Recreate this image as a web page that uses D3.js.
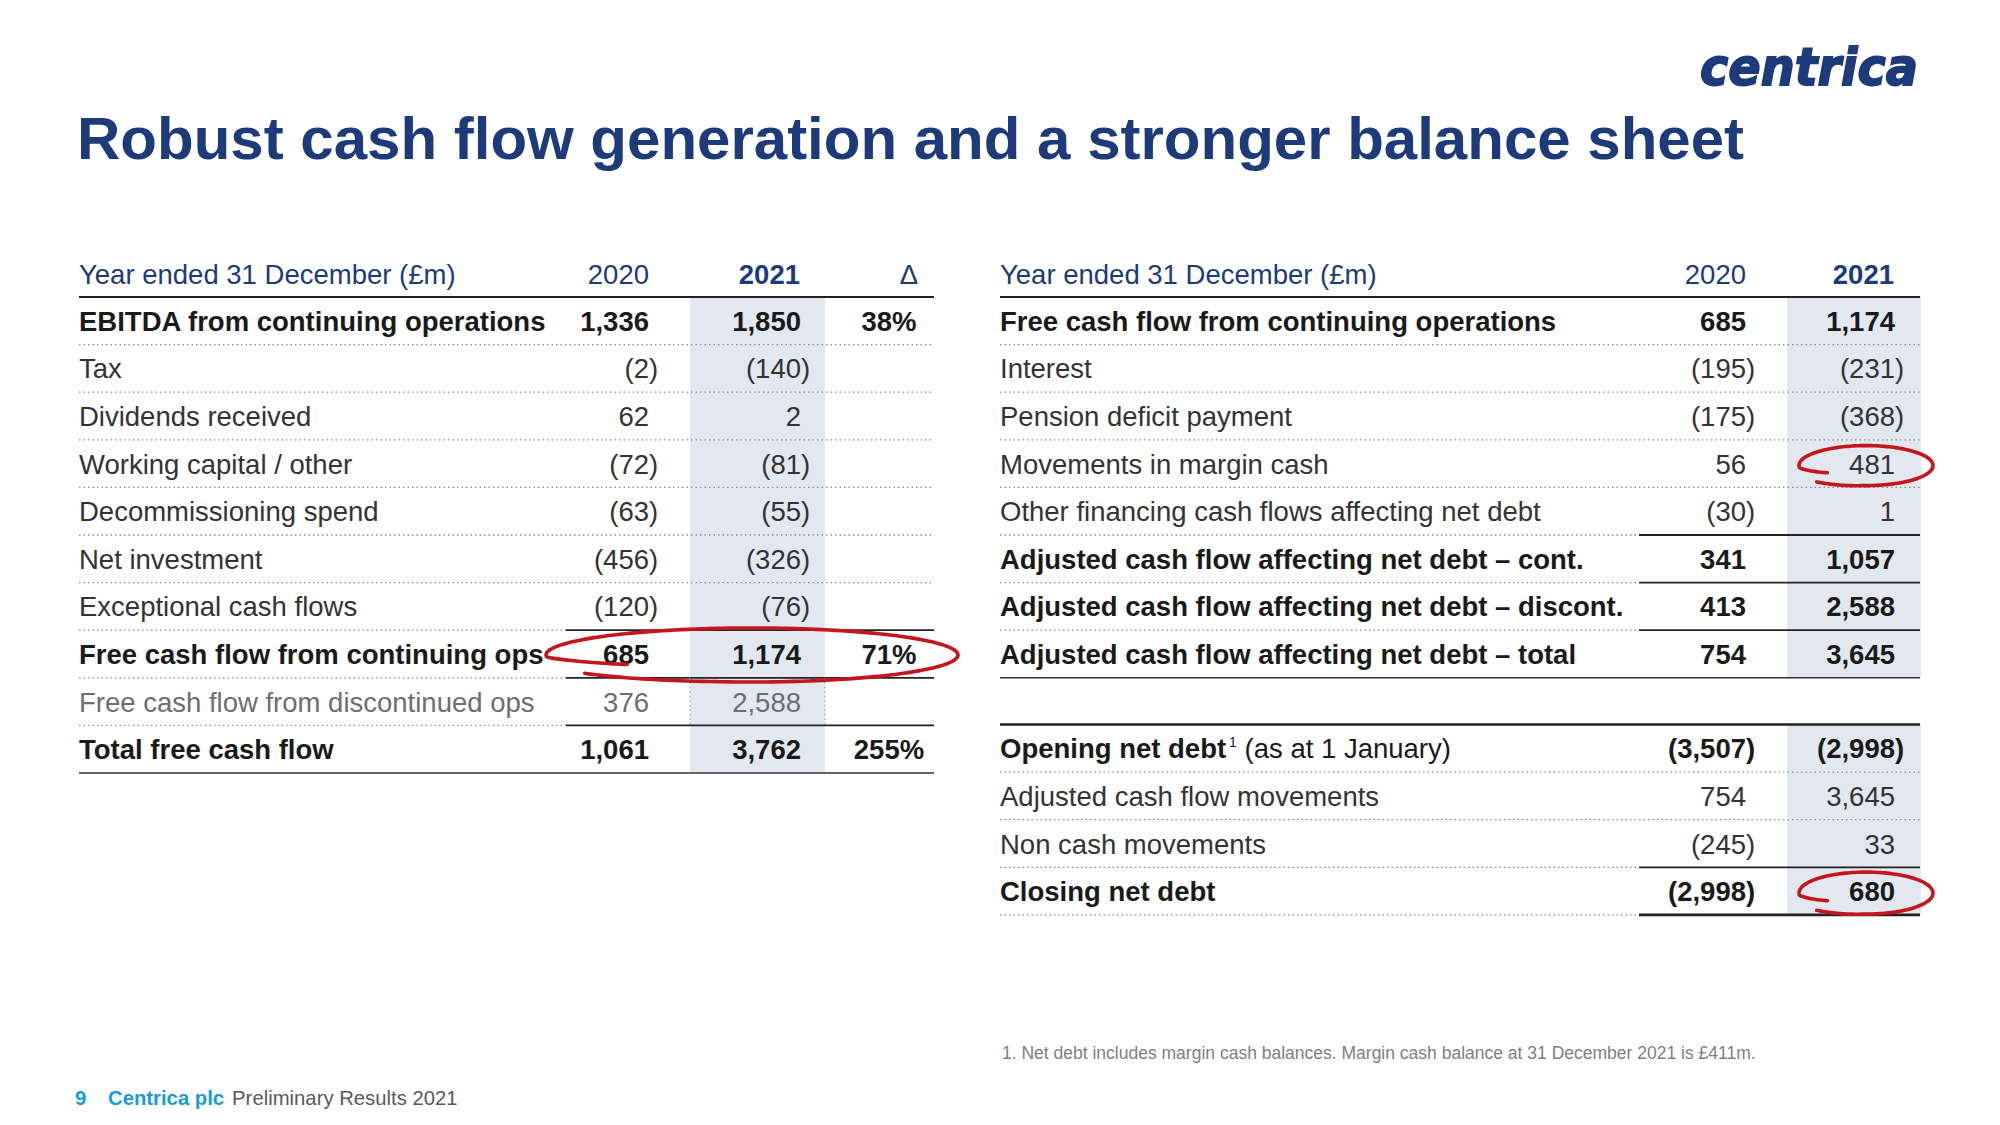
<!DOCTYPE html>
<html>
<head>
<meta charset="utf-8">
<script src="https://cdn.jsdelivr.net/npm/d3@7"></script>
<style>
  html, body { margin: 0; padding: 0; background: #fff; }
  svg { display: block; font-family: "Liberation Sans", Arial, sans-serif; }
</style>
</head>
<body>
<svg id="chart" width="2000" height="1125"></svg>
<script>
// ---------------- DATA ----------------
const titleText = "Robust cash flow generation and a stronger balance sheet";
const headerLabel = "Year ended 31 December (£m)";
const yearLabels = ["2020", "2021"];
const deltaLabel = "\u0394";

const leftLabels = [
  "EBITDA from continuing operations", "Tax", "Dividends received",
  "Working capital / other", "Decommissioning spend", "Net investment",
  "Exceptional cash flows", "Free cash flow from continuing ops",
  "Free cash flow from discontinued ops", "Total free cash flow"
];
const left2020 = [1336, -2, 62, -72, -63, -456, -120, 685, 376, 1061];
const left2021 = [1850, -140, 2, -81, -55, -326, -76, 1174, 2588, 3762];
const leftDelta = ["38%", "", "", "", "", "", "", "71%", "", "255%"];
const leftBold = [true, false, false, false, false, false, false, true, false, true];
const leftMuted = [false, false, false, false, false, false, false, false, true, false];
const leftRule = ["dot", "dot", "dot", "dot", "dot", "dot", "mixed", "mixed", "mixed", "solid"];

const rightLabels = [
  "Free cash flow from continuing operations", "Interest", "Pension deficit payment",
  "Movements in margin cash", "Other financing cash flows affecting net debt",
  "Adjusted cash flow affecting net debt \u2013 cont.",
  "Adjusted cash flow affecting net debt \u2013 discont.",
  "Adjusted cash flow affecting net debt \u2013 total"
];
const right2020 = [685, -195, -175, 56, -30, 341, 413, 754];
const right2021 = [1174, -231, -368, 481, 1, 1057, 2588, 3645];
const rightBold = [true, false, false, false, false, true, true, true];
const rightRule = ["dot", "dot", "dot", "dot", "mixed", "mixed", "mixed", "solid"];

const debtLabels = ["Opening net debt", "Adjusted cash flow movements", "Non cash movements", "Closing net debt"];
const debtSuffix = [" (as at 1 January)", "", "", ""];
const debt2020 = [-3507, 754, -245, -2998];
const debt2021 = [-2998, 3645, 33, 680];
const debtBold = [true, false, false, true];
const debtRule = ["dot", "dot", "mixed", "mixedThick"];

const footnote = "1. Net debt includes margin cash balances. Margin cash balance at 31 December 2021 is £411m.";
const footerPage = "9";
const footerCompany = "Centrica plc";
const footerDoc = "Preliminary Results 2021";
const logoText = "centrica";

// ---------------- STYLE / LAYOUT ----------------
const NAVY = "#1d3a7a";
const TEXT = "#333333";
const BOLD = "#1a1a1a";
const MUTED = "#6e6e6e";
const BAND = "#e3e7ef";
const RED = "#c4161c";
const FS = 27.5;
const ROW_H = 47.6;
const HEADER_LINE_Y = 297;

const svg = d3.select("#chart");
const fmt = d3.format(",");

// Title
svg.append("text").attr("x", 77).attr("y", 159)
  .attr("font-size", 60).attr("font-weight", 700).attr("fill", NAVY)
  .text(titleText);

// Logo
svg.append("text").attr("x", 1700).attr("y", 85)
  .attr("font-family", "'DejaVu Sans', sans-serif")
  .attr("font-size", 52).attr("font-weight", 700).attr("font-style", "italic")
  .attr("fill", NAVY).attr("stroke", NAVY).attr("stroke-width", 1.8)
  .attr("textLength", 218).attr("lengthAdjust", "spacingAndGlyphs")
  .text(logoText);

function drawNumber(g, x, y, v, style) {
  const w = style.bold ? 700 : 400;
  if (v < 0) {
    g.append("text").attr("x", x).attr("y", y).attr("text-anchor", "end")
      .attr("font-size", FS).attr("font-weight", w).attr("fill", style.fill)
      .text("(" + fmt(-v));
    g.append("text").attr("x", x).attr("y", y).attr("text-anchor", "start")
      .attr("font-size", FS).attr("font-weight", w).attr("fill", style.fill)
      .text(")");
  } else {
    g.append("text").attr("x", x).attr("y", y).attr("text-anchor", "end")
      .attr("font-size", FS).attr("font-weight", w).attr("fill", style.fill)
      .text(fmt(v));
  }
}

function drawRule(g, x0, x1, xSolid, y, type) {
  if (type === "dot") {
    g.append("line").attr("x1", x0).attr("x2", x1).attr("y1", y).attr("y2", y)
      .attr("stroke", "#8a8a8a").attr("stroke-width", 1.3).attr("stroke-dasharray", "1.5 3");
  } else if (type === "solid") {
    g.append("line").attr("x1", x0).attr("x2", x1).attr("y1", y).attr("y2", y)
      .attr("stroke", "#333").attr("stroke-width", 1.6);
  } else {
    g.append("line").attr("x1", x0).attr("x2", xSolid).attr("y1", y).attr("y2", y)
      .attr("stroke", "#8a8a8a").attr("stroke-width", 1.3).attr("stroke-dasharray", "1.5 3");
    g.append("line").attr("x1", xSolid).attr("x2", x1).attr("y1", y).attr("y2", y)
      .attr("stroke", "#222").attr("stroke-width", type === "mixedThick" ? 2.6 : 1.8);
  }
}

function drawTable(cfg) {
  const g = svg.append("g");
  const n = cfg.labels.length;
  const y = d3.scaleBand().domain(d3.range(n))
    .range([cfg.top, cfg.top + n * ROW_H]).paddingInner(0).paddingOuter(0);

  g.append("rect").attr("x", cfg.band[0]).attr("width", cfg.band[1] - cfg.band[0])
    .attr("y", cfg.top).attr("height", n * ROW_H).attr("fill", BAND);

  if (cfg.header) {
    const hy = cfg.top - 13;
    g.append("text").attr("x", cfg.x0).attr("y", hy).attr("font-size", FS).attr("fill", NAVY)
      .text(headerLabel);
    g.append("text").attr("x", cfg.c2020).attr("y", hy).attr("text-anchor", "end")
      .attr("font-size", FS).attr("fill", NAVY).text(yearLabels[0]);
    g.append("text").attr("x", cfg.c2021 - 1).attr("y", hy).attr("text-anchor", "end")
      .attr("font-size", FS).attr("font-weight", 700).attr("fill", NAVY).text(yearLabels[1]);
    if (cfg.deltaHeaderX) {
      g.append("text").attr("x", cfg.deltaHeaderX).attr("y", hy).attr("text-anchor", "middle")
        .attr("font-size", FS).attr("fill", NAVY).text(deltaLabel);
    }
  }
  g.append("line").attr("x1", cfg.x0).attr("x2", cfg.x1).attr("y1", cfg.top).attr("y2", cfg.top)
    .attr("stroke", "#222").attr("stroke-width", cfg.header ? 2 : 2.4);

  cfg.labels.forEach((lab, i) => {
    const base = y(i) + y.bandwidth() / 2 + 10;
    const bold = cfg.bold[i];
    const muted = cfg.muted ? cfg.muted[i] : false;
    const fill = muted ? MUTED : (bold ? BOLD : TEXT);
    const t = g.append("text").attr("x", cfg.x0).attr("y", base).attr("font-size", FS).attr("fill", fill);
    t.append("tspan").attr("font-weight", bold ? 700 : 400).text(lab);
    if (cfg.sup && cfg.sup[i]) {
      t.append("tspan").attr("font-size", 14).attr("dy", -11).attr("dx", 3).attr("font-weight", 400).text(cfg.sup[i]);
      t.append("tspan").attr("dy", 11).attr("font-weight", 400).text(cfg.suffix[i]);
    }
    drawNumber(g, cfg.c2020, base, cfg.v2020[i], { bold, fill });
    drawNumber(g, cfg.c2021, base, cfg.v2021[i], { bold, fill });
    if (cfg.delta && cfg.delta[i]) {
      g.append("text").attr("x", cfg.deltaX).attr("y", base).attr("text-anchor", "middle")
        .attr("font-size", FS).attr("font-weight", 700).attr("fill", BOLD).text(cfg.delta[i]);
    }
    if (muted) {
      [cfg.band[0], cfg.band[1]].forEach(bx => {
        g.append("line").attr("x1", bx).attr("x2", bx).attr("y1", y(i)).attr("y2", y(i) + ROW_H)
          .attr("stroke", "#9a9a9a").attr("stroke-width", 1.2).attr("stroke-dasharray", "1.5 3");
      });
    }
    drawRule(g, cfg.x0, cfg.x1, cfg.xSolid, y(i) + ROW_H, cfg.rules[i]);
  });
  return y;
}

const yL = drawTable({
  header: true, top: HEADER_LINE_Y, x0: 79, x1: 934, xSolid: 566,
  band: [690, 825], c2020: 649, c2021: 801, deltaX: 889, deltaHeaderX: 909,
  labels: leftLabels, v2020: left2020, v2021: left2021, delta: leftDelta,
  bold: leftBold, muted: leftMuted, rules: leftRule
});

const yR = drawTable({
  header: true, top: HEADER_LINE_Y, x0: 1000, x1: 1920, xSolid: 1639,
  band: [1787, 1921], c2020: 1746, c2021: 1895,
  labels: rightLabels, v2020: right2020, v2021: right2021,
  bold: rightBold, rules: rightRule
});

const yD = drawTable({
  header: false, top: 724.5, x0: 1000, x1: 1920, xSolid: 1639,
  band: [1787, 1921], c2020: 1746, c2021: 1895,
  labels: debtLabels, v2020: debt2020, v2021: debt2021, sup: ["1", "", "", ""], suffix: debtSuffix,
  bold: debtBold, rules: debtRule
});

// Hand-drawn highlight loops
function loop(cx, cy, rx, ry, a0, a1, k0, k1) {
  const rampIn = 25, rampOut = 40;
  const pts = d3.range(a0, a1 + 0.01, 2).map(deg => {
    let k = 1;
    if (deg - a0 < rampIn) k = k0 + (1 - k0) * ((deg - a0) / rampIn);
    else if (a1 - deg < rampOut) k = 1 + (k1 - 1) * (1 - (a1 - deg) / rampOut);
    const a = deg * Math.PI / 180;
    return [cx + rx * k * Math.cos(a), cy + ry * k * Math.sin(a)];
  });
  svg.append("path").attr("d", d3.line().curve(d3.curveBasis)(pts))
    .attr("fill", "none").attr("stroke", RED).attr("stroke-width", 3.6).attr("stroke-linecap", "round");
}
const fcfRow = leftLabels.indexOf("Free cash flow from continuing ops");
loop(752, yL(fcfRow) + ROW_H / 2 + 1, 206, 27, 150, 500, 0.7, 1.06);
const marginRow = rightLabels.indexOf("Movements in margin cash");
loop(1866, yR(marginRow) + ROW_H / 2 + 2, 67, 20, 148, 492, 0.68, 1.1);
const closingRow = debtLabels.indexOf("Closing net debt");
loop(1866, yD(closingRow) + ROW_H / 2 + 2, 67, 21, 148, 492, 0.68, 1.1);

// Footnote
svg.append("text").attr("x", 1002).attr("y", 1059).attr("font-size", 17.5).attr("fill", "#808080")
  .text(footnote);

// Footer
const ft = svg.append("text").attr("x", 75).attr("y", 1105).attr("font-size", 20.3);
ft.append("tspan").attr("font-weight", 700).attr("fill", "#1a9ad6").text(footerPage);
ft.append("tspan").attr("x", 108).attr("font-weight", 700).attr("fill", "#1a9ad6").text(footerCompany);
ft.append("tspan").attr("dx", 8).attr("fill", "#595959").text(footerDoc);
</script>
</body>
</html>
